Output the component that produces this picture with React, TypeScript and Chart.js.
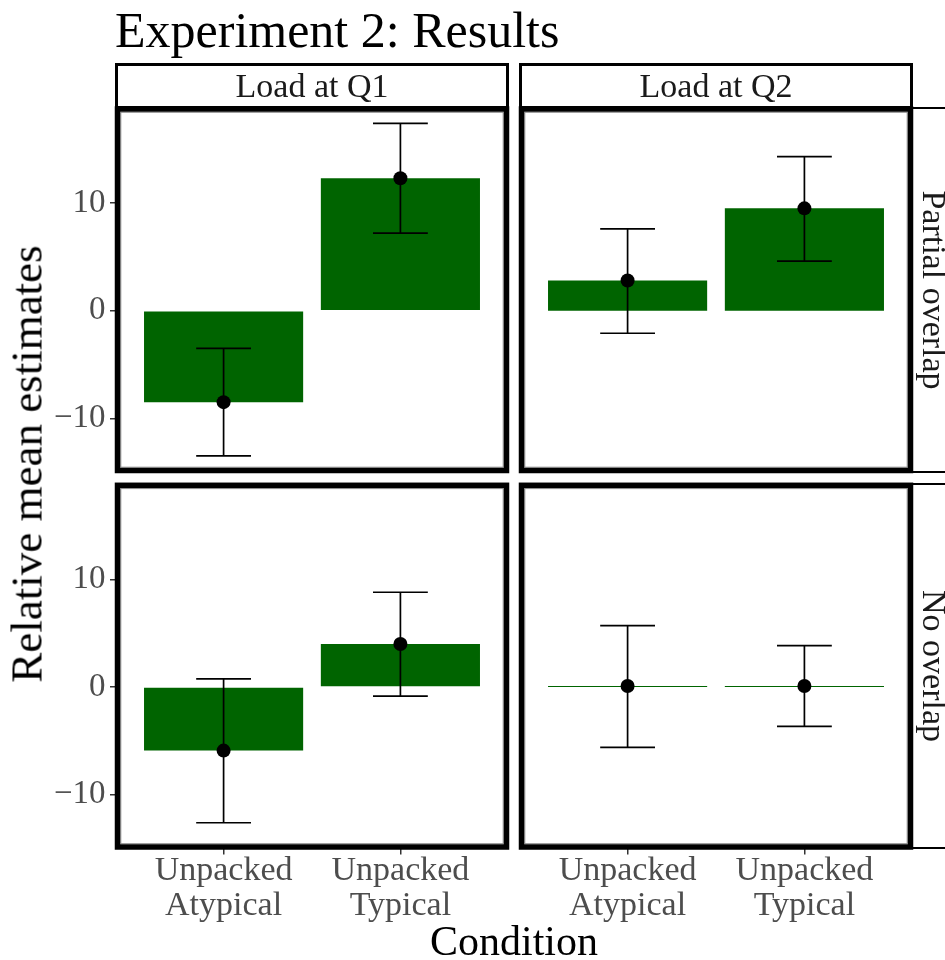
import React, { useEffect, useRef } from 'react';
import { Chart, registerables } from 'chart.js';

Chart.register(...registerables);

// ---------- data ----------
const categories: string[][] = [
  ['Unpacked', 'Atypical'],
  ['Unpacked', 'Typical'],
];
const categoryPositions = [1, 2];
const colLabels = ['Load at Q1', 'Load at Q2'];
const rowLabels = ['Partial overlap', 'No overlap'];
const yTickValues = [-10, 0, 10];

const partialQ1Mean = [-8.5, 12.3];
const partialQ1Lo = [-13.5, 7.2];
const partialQ1Hi = [-3.5, 17.4];

const partialQ2Mean = [2.8, 9.5];
const partialQ2Lo = [-2.1, 4.6];
const partialQ2Hi = [7.6, 14.3];

const noQ1Mean = [-5.9, 4.0];
const noQ1Lo = [-12.6, -0.85];
const noQ1Hi = [0.75, 8.8];

const noQ2Mean = [0.1, 0.1];
const noQ2Lo = [-5.6, -3.65];
const noQ2Hi = [5.7, 3.85];

// ---------- layout / style ----------
const W = 945;
const H = 960;
const FONT = '"Liberation Serif", "Times New Roman", Times, serif';
const colX: [number, number][] = [
  [117.5, 506.5],
  [521.5, 910.5],
];
const rowY: [number, number][] = [
  [109, 470.5],
  [485.3, 847],
];
const Y_MIN = -14.85;
const Y_MAX = 18.73;
const X_MIN = 0.4;
const X_MAX = 2.6;
const CAP = 0.31;
const BAR_COLOR = '#006400';
const Y_AXIS_W = 80;
const X_AXIS_H = 100;

type PanelSpec = {
  row: number;
  col: number;
  mean: number[];
  lo: number[];
  hi: number[];
};

const panels: PanelSpec[] = [
  { row: 0, col: 0, mean: partialQ1Mean, lo: partialQ1Lo, hi: partialQ1Hi },
  { row: 0, col: 1, mean: partialQ2Mean, lo: partialQ2Lo, hi: partialQ2Hi },
  { row: 1, col: 0, mean: noQ1Mean, lo: noQ1Lo, hi: noQ1Hi },
  { row: 1, col: 1, mean: noQ2Mean, lo: noQ2Lo, hi: noQ2Hi },
];

function fmtTick(v: number): string {
  return v < 0 ? '\u2212' + String(Math.abs(v)) : String(v);
}

function Panel({ spec }: { spec: PanelSpec }) {
  const ref = useRef<HTMLCanvasElement>(null);
  useEffect(() => {
    const canvas = ref.current;
    if (!canvas) return;
    const { row, col, mean, lo, hi } = spec;
    const showY = col === 0;
    const showX = row === rowY.length - 1;
    const [L, R] = colX[col];
    const [T, B] = rowY[row];

    const decor = {
      id: 'panelDecor',
      afterDatasetDraw(chart: any, args: any) {
        if (args.meta.type !== 'bar') return;
        const { ctx } = chart;
        const xs = chart.scales.x;
        const ys = chart.scales.y;
        ctx.save();
        ctx.strokeStyle = '#000000';
        ctx.lineWidth = 1.7;
        ctx.lineCap = 'butt';
        categoryPositions.forEach((pos, i) => {
          const px = xs.getPixelForValue(pos);
          const x0 = xs.getPixelForValue(pos - CAP / 2);
          const x1 = xs.getPixelForValue(pos + CAP / 2);
          const yl = ys.getPixelForValue(lo[i]);
          const yh = ys.getPixelForValue(hi[i]);
          ctx.beginPath();
          ctx.moveTo(px, yl);
          ctx.lineTo(px, yh);
          ctx.moveTo(x0, yl);
          ctx.lineTo(x1, yl);
          ctx.moveTo(x0, yh);
          ctx.lineTo(x1, yh);
          ctx.stroke();
        });
        ctx.restore();
      },
      afterDraw(chart: any) {
        const { ctx, chartArea: a } = chart;
        ctx.save();
        ctx.strokeStyle = '#8a8a8a';
        ctx.lineWidth = 1;
        ctx.strokeRect(a.left + 3.3, a.top + 3.3, a.width - 6.6, a.height - 6.6);
        ctx.strokeStyle = '#000000';
        ctx.lineWidth = 5.5;
        ctx.strokeRect(a.left, a.top, a.width, a.height);
        ctx.restore();
      },
    };

    const chart = new Chart(canvas, {
      type: 'bar',
      data: {
        datasets: [
          {
            type: 'scatter',
            data: categoryPositions.map((x, i) => ({ x, y: mean[i] })),
            pointRadius: 7,
            pointHoverRadius: 7,
            pointBackgroundColor: '#000000',
            pointBorderWidth: 0,
            order: 0,
          } as any,
          {
            type: 'bar',
            data: categoryPositions.map((x, i) => ({ x, y: mean[i] })),
            backgroundColor: BAR_COLOR,
            borderWidth: 0,
            barPercentage: 0.9,
            categoryPercentage: 1,
            order: 1,
          } as any,
        ],
      },
      options: {
        responsive: false,
        animation: false,
        devicePixelRatio: 1,
        events: [],
        layout: {
          padding: {
            left: showY ? L - Y_AXIS_W : L,
            right: W - R,
            top: T,
            bottom: showX ? H - B - X_AXIS_H : H - B,
          },
        },
        plugins: {
          legend: { display: false },
          tooltip: { enabled: false },
          title: { display: false },
        },
        scales: {
          x: {
            type: 'linear',
            min: X_MIN,
            max: X_MAX,
            offset: false,
            display: showX,
            afterBuildTicks: (s: any) => {
              s.ticks = categoryPositions.map((v) => ({ value: v }));
            },
            afterFit: (s: any) => {
              s.height = showX ? X_AXIS_H : 0;
            },
            border: { display: false },
            grid: {
              offset: false,
              drawOnChartArea: false,
              drawTicks: true,
              tickLength: 7.5,
              color: '#333333',
              lineWidth: 1.5,
            },
            ticks: {
              autoSkip: false,
              maxRotation: 0,
              minRotation: 0,
              padding: -1.0,
              color: '#4D4D4D',
              font: { family: FONT, size: 34, lineHeight: 1.03 },
              callback: (v: any) => categories[categoryPositions.indexOf(Number(v))] as any,
            },
          },
          y: {
            type: 'linear',
            min: Y_MIN,
            max: Y_MAX,
            display: showY,
            afterBuildTicks: (s: any) => {
              s.ticks = yTickValues.map((v) => ({ value: v }));
            },
            afterFit: (s: any) => {
              s.width = showY ? Y_AXIS_W : 0;
            },
            border: { display: false },
            grid: {
              drawOnChartArea: false,
              drawTicks: true,
              tickLength: 7.5,
              color: '#333333',
              lineWidth: 1.5,
            },
            ticks: {
              padding: 4.5,
              color: '#4D4D4D',
              font: { family: FONT, size: 33 },
              callback: (v: any) => fmtTick(Number(v)),
            },
          },
        },
      },
      plugins: [decor],
    } as any);
    return () => chart.destroy();
  }, [spec]);
  return (
    <canvas
      ref={ref}
      width={W}
      height={H}
      style={{ position: 'absolute', left: 0, top: 0, width: W, height: H }}
    />
  );
}

export default function App() {
  useEffect(() => {
    document.body.style.margin = '0';
  }, []);
  const stripFont = 34;
  return (
    <div
      style={{
        position: 'relative',
        width: W,
        height: H,
        overflow: 'hidden',
        background: '#ffffff',
        fontFamily: FONT,
      }}
    >
      {panels.map((p) => (
        <Panel key={`${p.row}-${p.col}`} spec={p} />
      ))}

      {/* title */}
      <div
        style={{
          position: 'absolute',
          left: 115,
          top: 5,
          fontSize: 50,
          lineHeight: '50px',
          whiteSpace: 'nowrap',
          color: '#000',
        }}
      >
        Experiment 2: Results
      </div>

      {/* column strips */}
      {colLabels.map((t, c) => (
        <div
          key={t}
          style={{
            position: 'absolute',
            left: colX[c][0] - 2.5,
            top: 63,
            width: colX[c][1] - colX[c][0] + 5,
            height: 46,
            border: '3px solid #000',
            boxSizing: 'border-box',
            display: 'flex',
            alignItems: 'center',
            justifyContent: 'center',
            fontSize: stripFont,
            lineHeight: `${stripFont}px`,
            color: '#1A1A1A',
            whiteSpace: 'nowrap',
            background: '#fff',
          }}
        >
          {t}
        </div>
      ))}

      {/* row strips */}
      {rowLabels.map((t, r) => (
        <div
          key={t}
          style={{
            position: 'absolute',
            left: 909,
            top: rowY[r][0] - 2.5,
            width: 60,
            height: rowY[r][1] - rowY[r][0] + 5,
            border: '2.5px solid #000',
            boxSizing: 'border-box',
          }}
        />
      ))}
      {rowLabels.map((t, r) => (
        <div
          key={t + '-txt'}
          style={{
            position: 'absolute',
            left: 933.5,
            top: (rowY[r][0] + rowY[r][1]) / 2,
            transform: 'translate(-50%, -50%) rotate(90deg)',
            fontSize: stripFont,
            lineHeight: `${stripFont}px`,
            color: '#1A1A1A',
            whiteSpace: 'nowrap',
          }}
        >
          {t}
        </div>
      ))}

      {/* y axis title */}
      <div
        style={{
          position: 'absolute',
          left: 27,
          top: 464,
          transform: 'translate(-50%, -50%) rotate(-90deg)',
          fontSize: 45,
          lineHeight: '45px',
          whiteSpace: 'nowrap',
          color: '#000',
        }}
      >
        Relative mean estimates
      </div>

      {/* x axis title */}
      <div
        style={{
          position: 'absolute',
          left: (colX[0][0] + colX[1][1]) / 2,
          top: 920,
          transform: 'translateX(-50%)',
          fontSize: 42,
          lineHeight: '42px',
          whiteSpace: 'nowrap',
          color: '#000',
        }}
      >
        Condition
      </div>
    </div>
  );
}
